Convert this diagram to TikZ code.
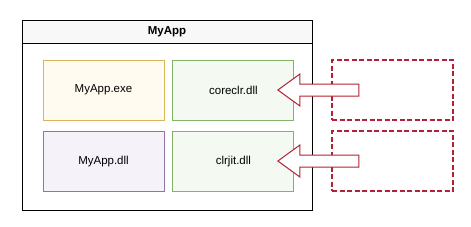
\documentclass[tikz,border=0pt]{standalone}
\usepackage{fontspec}
\setmainfont{Liberation Sans}
\usepackage{tikz}
\usetikzlibrary{shapes.arrows, positioning}
\definecolor{myyellow}{RGB}{214,182,86}
\definecolor{mygreen}{RGB}{130,179,102}
\definecolor{mypurple}{RGB}{150,115,166}
\definecolor{myred}{RGB}{178,34,52}
\definecolor{hdryellow}{RGB}{255,251,240}
\definecolor{hdrgreen}{RGB}{244,250,242}
\definecolor{hdrpurple}{RGB}{246,242,249}
\definecolor{hdrgrey}{RGB}{248,248,248}
\tikzset{
  module/.style={rectangle, minimum width=121pt, minimum height=60pt, inner sep=0pt,
    font=\fontsize{11.5}{13}\selectfont, line width=0.9pt},
  exebox/.style={module, draw=myyellow, fill=hdryellow},
  dllbox/.style={module, draw=mypurple, fill=hdrpurple},
  rtbox/.style={module, draw=mygreen, fill=hdrgreen},
  slot/.style={rectangle, minimum width=121pt, minimum height=60pt, inner sep=0pt,
    draw=myred, dash pattern=on 5pt off 2.5pt, line width=1.1pt},
  loadarrow/.style={single arrow, shape border rotate=180, draw=myred, fill=white,
    line width=1pt, minimum height=81pt, inner xsep=0pt, inner ysep=5.5pt,
    single arrow head extend=10pt, single arrow tip angle=72}
}
\begin{document}
\begin{tikzpicture}[x=1pt, y=-1pt]
  \useasboundingbox (0,0) rectangle (471,226);
  % container with title bar
  \draw[line width=1pt, fill=white] (22,20) rectangle (312,210);
  \draw[line width=1pt, fill=hdrgrey] (22,20) rectangle (312,43);
  \node[font=\bfseries\fontsize{11.5}{13}\selectfont] (title) at (167,31.5) {MyApp};
  % modules
  \node[exebox] (exe) at (103.5,90) {MyApp.exe};
  \node[rtbox, right=8pt of exe] (coreclr) {coreclr.dll};
  \node[dllbox, below=11pt of exe] (appdll) {MyApp.dll};
  \node[rtbox, right=8pt of appdll] (clrjit) {clrjit.dll};
  % empty slots on the right
  \node[slot] (slotA) at (392.5,90) {};
  \node[slot] (slotB) at (392.5,161) {};
  % block arrows
  \node[loadarrow] (arrA) at (322.5,90) {};
  \node[loadarrow] (arrB) at (322.5,161) {};
\end{tikzpicture}
\end{document}
